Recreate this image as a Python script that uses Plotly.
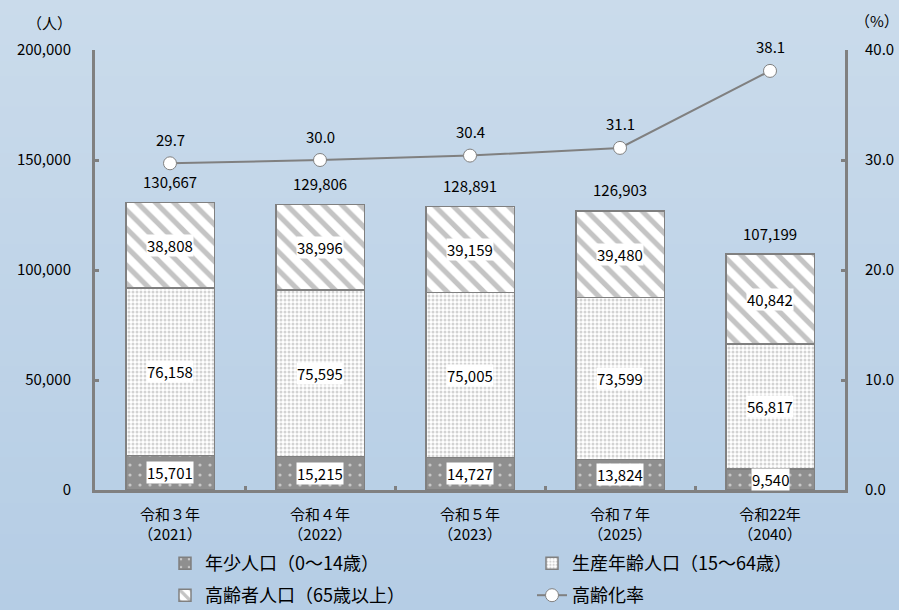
import plotly.graph_objects as go

categories = ["令和３年<br>（2021）", "令和４年<br>（2022）", "令和５年<br>（2023）", "令和７年<br>（2025）", "令和22年<br>（2040）"]
youth = [15701, 15215, 14727, 13824, 9540]
working = [76158, 75595, 75005, 73599, 56817]
elderly = [38808, 38996, 39159, 39480, 40842]
totals = [130667, 129806, 128891, 126903, 107199]
aging_rate = [29.7, 30.0, 30.4, 31.1, 38.1]

FONT = "Noto Sans CJK JP, Noto Sans, sans-serif"
GRAY = "#808080"
NUM = 15

fig = go.Figure()
fig.add_trace(go.Bar(
    x=categories, y=youth, name="年少人口（0〜14歳）", width=0.59,
    marker=dict(color="#8f8f8f", line=dict(color=GRAY, width=1.5),
                pattern=dict(shape=".", fgcolor="white", bgcolor="#8f8f8f", size=10, solidity=0.08)),
    legend="legend"))
fig.add_trace(go.Bar(
    x=categories, y=working, name="生産年齢人口（15〜64歳）", width=0.59,
    marker=dict(color="white", line=dict(color=GRAY, width=1.5),
                pattern=dict(shape=".", fgcolor="#a8a8a8", bgcolor="white", size=4, solidity=0.45)),
    legend="legend"))
fig.add_trace(go.Bar(
    x=categories, y=elderly, name="高齢者人口（65歳以上）", width=0.59,
    marker=dict(color="white", line=dict(color=GRAY, width=1.5),
                pattern=dict(shape="\\", fgcolor="#8a8a8a", bgcolor="white", size=13, solidity=0.4)),
    legend="legend2"))
fig.add_trace(go.Scatter(
    x=categories, y=aging_rate, name="高齢化率", yaxis="y2", mode="lines+markers",
    line=dict(color=GRAY, width=2),
    marker=dict(symbol="circle", size=13, color="white", line=dict(color=GRAY, width=1)),
    legend="legend2"))

annotations = []
for i, c in enumerate(categories):
    base = 0
    for seg in (youth, working, elderly):
        v = seg[i]
        annotations.append(dict(x=c, y=base + v / 2, text=f"{v:,}", showarrow=False,
                                font=dict(size=NUM, color="black", family=FONT),
                                bgcolor="white", borderpad=0))
        base += v
    annotations.append(dict(x=c, y=totals[i], text=f"{totals[i]:,}", showarrow=False,
                            yshift=21, font=dict(size=NUM, color="black", family=FONT)))
    annotations.append(dict(x=c, y=aging_rate[i], yref="y2", text=f"{aging_rate[i]:.1f}",
                            showarrow=False, yshift=24,
                            font=dict(size=NUM, color="black", family=FONT)))

annotations.append(dict(xref="paper", yref="paper", x=-0.093, y=1.09, text="（人）",
                        showarrow=False, font=dict(size=NUM, color="black", family=FONT)))
annotations.append(dict(xref="paper", yref="paper", x=1.075, y=1.095, text="（%）",
                        showarrow=False, font=dict(size=NUM, color="black", family=FONT)))

# background gradient bands
shapes = []
top_c = (202, 219, 235)
bot_c = (181, 205, 229)
n = 40
for k in range(n):
    t = k / (n - 1)
    col = tuple(round(top_c[j] + (bot_c[j] - top_c[j]) * t) for j in range(3))
    y0 = 1 + 50 / 440 - (k / n) * (610 / 440)
    y1 = 1 + 50 / 440 - ((k + 1) / n) * (610 / 440)
    shapes.append(dict(type="rect", xref="paper", yref="paper", x0=-0.2, x1=1.2,
                       y0=y1 - 0.003, y1=y0, fillcolor="rgb(%d,%d,%d)" % col,
                       line=dict(width=0), layer="below"))

fig.update_layout(
    width=899, height=610,
    margin=dict(l=95, r=54, t=50, b=120, autoexpand=False),
    barmode="stack",
    paper_bgcolor="#c2d6ea", plot_bgcolor="rgba(0,0,0,0)",
    font=dict(family=FONT, size=NUM, color="black"),
    shapes=shapes,
    annotations=annotations,
    xaxis=dict(showline=True, linecolor=GRAY, linewidth=3, ticks="inside", ticklen=4,
               tickcolor=GRAY, tickwidth=3, tickson="boundaries", showgrid=False,
               ticklabelstandoff=9, tickfont=dict(size=15, family=FONT)),
    yaxis=dict(range=[0, 200000], tickvals=[0, 50000, 100000, 150000, 200000],
               tickformat=",d", showline=True, linecolor=GRAY, linewidth=3,
               ticks="inside", ticklen=4, tickcolor=GRAY, tickwidth=3, showgrid=False,
               zeroline=False, ticklabelstandoff=18, tickfont=dict(size=NUM, family=FONT)),
    yaxis2=dict(range=[0, 40], tickvals=[0, 10, 20, 30, 40], tickformat=".1f",
                overlaying="y", side="right", showline=True, linecolor=GRAY, linewidth=3,
                ticks="inside", ticklen=4, tickcolor=GRAY, tickwidth=3, showgrid=False,
                zeroline=False, ticklabelstandoff=14, tickfont=dict(size=NUM, family=FONT)),
    legend=dict(orientation="h", xref="container", yref="container",
                x=165 / 899, y=1 - 545 / 610, xanchor="left", yanchor="top",
                entrywidth=322, entrywidthmode="pixels", bgcolor="rgba(0,0,0,0)",
                font=dict(size=18, family=FONT), traceorder="normal"),
    legend2=dict(orientation="h", xref="container", yref="container",
                 x=165 / 899, y=1 - 577 / 610, xanchor="left", yanchor="top",
                 entrywidth=322, entrywidthmode="pixels", bgcolor="rgba(0,0,0,0)",
                 font=dict(size=18, family=FONT), traceorder="normal"),
)

fig.write_html("out.html", config={"displayModeBar": False},
               post_script="document.body.style.margin='0';document.body.style.overflow='hidden';")
